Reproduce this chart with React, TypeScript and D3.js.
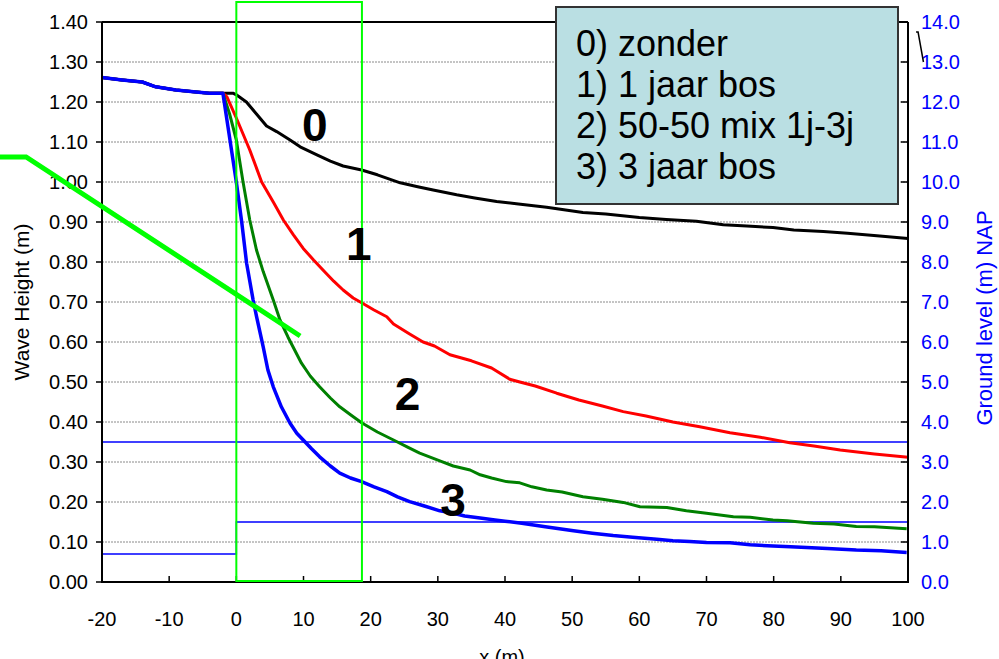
import React from "react";
import * as d3 from "d3";

type P = [number, number];

const xTicks = [-20, -10, 0, 10, 20, 30, 40, 50, 60, 70, 80, 90, 100];
const yTicks = [0, 0.1, 0.2, 0.3, 0.4, 0.5, 0.6, 0.7, 0.8, 0.9, 1.0, 1.1, 1.2, 1.3, 1.4];
const y2Ticks = [0, 1, 2, 3, 4, 5, 6, 7, 8, 9, 10, 11, 12, 13, 14];

const approach: P[] = [
  [-20, 1.261], [-17, 1.255], [-14, 1.25], [-12, 1.238], [-9, 1.23], [-6, 1.225], [-4, 1.222], [-2, 1.222],
];

const series0: P[] = [
  [-0.5, 1.222], [0, 1.218], [1.5, 1.2], [3, 1.17], [4.5, 1.14], [6, 1.126], [8, 1.105], [9.5, 1.088],
  [12, 1.068], [14, 1.052], [15.9, 1.04], [18.65, 1.03], [21, 1.018], [24.4, 0.998], [27, 0.988],
  [29.3, 0.98], [32.8, 0.968], [35.5, 0.96], [38.75, 0.951], [42, 0.945], [46.2, 0.937], [51.6, 0.924],
  [55, 0.92], [60, 0.911], [64, 0.906], [68.5, 0.902], [72.5, 0.893], [76, 0.89], [79.9, 0.886],
  [83, 0.88], [87.4, 0.876], [91, 0.872], [95.8, 0.865], [100, 0.859],
];

const series1: P[] = [
  [-1.4, 1.213], [0, 1.16], [2, 1.08], [3.77, 1.0], [5.5, 0.95], [7, 0.905], [8.5, 0.868], [9.96, 0.834],
  [11.5, 0.805], [12.9, 0.78], [14.5, 0.752], [15.9, 0.73], [17.4, 0.71], [18.65, 0.698], [20.5, 0.68],
  [22.4, 0.663], [23.4, 0.645], [25.8, 0.62], [27.8, 0.6], [29.5, 0.59], [31.8, 0.568], [35, 0.553],
  [38, 0.535], [40.7, 0.507], [42.2, 0.5], [44.5, 0.49], [47.7, 0.472], [51, 0.455], [54.5, 0.44],
  [57.6, 0.426], [61, 0.415], [65, 0.4], [69, 0.388], [73.5, 0.373], [78, 0.362], [82.4, 0.348],
  [86, 0.34], [89.9, 0.33], [95, 0.32], [100, 0.312],
];

const series2: P[] = [
  [-1, 1.17], [0, 1.105], [1, 1.0], [2, 0.905], [3, 0.83], [4, 0.776], [5.5, 0.705], [6.5, 0.655],
  [7.7, 0.612], [9.7, 0.547], [11, 0.515], [12.4, 0.488], [14, 0.46], [15.4, 0.438], [17, 0.418],
  [18.65, 0.398], [21, 0.375], [23.4, 0.355], [25.5, 0.337], [27.3, 0.322], [30.3, 0.303], [32.3, 0.29],
  [34.8, 0.28], [36.3, 0.268], [38, 0.26], [40.2, 0.251], [42.2, 0.248], [44, 0.238], [46.2, 0.23],
  [48.5, 0.225], [51.6, 0.213], [54.5, 0.207], [57.6, 0.199], [60.1, 0.188], [64.1, 0.186], [67, 0.178],
  [70, 0.172], [74, 0.163], [76.5, 0.162], [79.9, 0.155], [82, 0.153], [85.9, 0.147], [89, 0.145],
  [92.3, 0.139], [95, 0.138], [99.8, 0.133],
];

const series3: P[] = [
  [0, 1.0], [0.8, 0.9], [1.53, 0.797], [2.5, 0.705], [3.02, 0.663], [4, 0.588], [4.7, 0.53], [5.5, 0.488],
  [6.7, 0.438], [8, 0.397], [9, 0.372], [9.96, 0.355], [11.2, 0.333], [12.4, 0.313], [14, 0.29],
  [15.4, 0.272], [17, 0.26], [18.65, 0.251], [20.5, 0.238], [22.4, 0.226], [24, 0.213], [25.8, 0.201],
  [28, 0.19], [30.3, 0.178], [32.3, 0.172], [34, 0.165], [36.3, 0.16], [38.5, 0.155], [40, 0.152],
  [42.5, 0.147], [46, 0.138], [50.2, 0.128], [53, 0.122], [56.1, 0.116], [59, 0.112], [62.6, 0.107],
  [65, 0.103], [67.5, 0.101], [70, 0.099], [73.5, 0.098], [76.5, 0.093], [79.9, 0.09], [82.5, 0.088],
  [84.9, 0.086], [88, 0.084], [92.3, 0.08], [96, 0.078], [99.8, 0.074],
];

// secondary axis (ground level, m NAP)
const groundLevel: P[] = [[-20, 0.7], [0, 0.7], [0, 1.5], [100, 1.5]];
const waterLevel: P[] = [[-20, 3.5], [100, 3.5]];

// annotations
const forestZone = { x0: 0, x1: 18.7, top: 1.45 };
const limeLine: P[] = [[-35.2, 1.0625], [-31.3, 1.0625], [9.5, 0.615]];
const smallMark: P[] = [[101.2, 1.375], [101.5, 1.375], [102.3, 1.3]];

const legendLines = ["0) zonder", "1) 1 jaar bos", "2) 50-50 mix 1j-3j", "3) 3 jaar bos"];
const seriesLabels: { t: string; x: number; y: number }[] = [
  { t: "0", x: 11.7, y: 1.103 },
  { t: "1", x: 18.25, y: 0.805 },
  { t: "2", x: 25.5, y: 0.43 },
  { t: "3", x: 32.25, y: 0.165 },
];

const FONT = "Arial, 'Liberation Sans', sans-serif";

export default function App() {
  const L = 102, R = 908, T = 22, B = 582;
  const x = d3.scaleLinear().domain([-20, 100]).range([L, R]);
  const y = d3.scaleLinear().domain([0, 1.4]).range([B, T]);
  const y2 = d3.scaleLinear().domain([0, 14]).range([B, T]);
  const line = d3.line<P>().x((d) => x(d[0])).y((d) => y(d[1]));
  const line2 = d3.line<P>().x((d) => x(d[0])).y((d) => y2(d[1]));

  const curves = [
    { d: approach.concat(series0), c: "#000000", w: 3 },
    { d: approach.concat(series1), c: "#FF0000", w: 3 },
    { d: approach.concat(series2), c: "#008000", w: 3 },
    { d: approach.concat(series3), c: "#0000FF", w: 3.5 },
  ];

  return (
    <svg width={999} height={659} style={{ position: "absolute", left: 0, top: 0, background: "#fff" }} fontFamily={FONT}>
      <rect x={0} y={0} width={999} height={659} fill="#fff" />
      {/* grid */}
      {yTicks.filter((t) => t > 0 && t < 1.4).map((t) => (
        <line key={"g" + t} x1={L} x2={R} y1={y(t)} y2={y(t)} stroke="#8a8a8a" strokeWidth={1} strokeDasharray="2 1" />
      ))}
      {/* ground & water level */}
      <path d={line2(waterLevel) || ""} fill="none" stroke="#0000FF" strokeWidth={1.5} />
      <path d={line2(groundLevel) || ""} fill="none" stroke="#0000FF" strokeWidth={1.5} />
      {/* curves */}
      {curves.map((s, i) => (
        <path key={i} d={line(s.d) || ""} fill="none" stroke={s.c} strokeWidth={s.w} strokeLinejoin="round" />
      ))}
      {/* frame */}
      <line x1={L} x2={R} y1={T} y2={T} stroke="#000" strokeWidth={2} />
      <line x1={L} x2={L} y1={T} y2={B} stroke="#000" strokeWidth={2} />
      <line x1={R} x2={R} y1={T} y2={B} stroke="#000" strokeWidth={2} />
      <line x1={L - 1} x2={R + 1} y1={B} y2={B} stroke="#000" strokeWidth={2} />
      {/* left ticks */}
      {yTicks.map((t) => (
        <g key={"l" + t}>
          <line x1={L - 6} x2={L} y1={y(t)} y2={y(t)} stroke="#000" strokeWidth={1.5} />
          <text x={88} y={y(t)} dy="0.35em" textAnchor="end" fontSize={20} fill="#000">{t.toFixed(2)}</text>
        </g>
      ))}
      {/* right ticks */}
      {y2Ticks.map((t) => (
        <g key={"r" + t}>
          <line x1={R - 7} x2={R} y1={y2(t)} y2={y2(t)} stroke="#000" strokeWidth={1.5} />
          <text x={921} y={y2(t)} dy="0.35em" textAnchor="start" fontSize={20} fill="#0000FF">{t.toFixed(1)}</text>
        </g>
      ))}
      {/* bottom ticks */}
      {xTicks.map((t) => (
        <g key={"b" + t}>
          <line x1={x(t)} x2={x(t)} y1={B - 6} y2={B} stroke="#000" strokeWidth={1.5} />
          <text x={x(t)} y={626} textAnchor="middle" fontSize={20} fill="#000">{t}</text>
        </g>
      ))}
      {/* forest zone */}
      <rect x={x(forestZone.x0)} y={y(forestZone.top)} width={x(forestZone.x1) - x(forestZone.x0)} height={y(0) - 1 - y(forestZone.top)} fill="none" stroke="#00FF00" strokeWidth={2} />
      <path d={line(limeLine) || ""} fill="none" stroke="#00FF00" strokeWidth={5} />
      <path d={line(smallMark) || ""} fill="none" stroke="#000" strokeWidth={1.5} />
      {/* series labels */}
      {seriesLabels.map((s) => (
        <text key={s.t} x={x(s.x)} y={y(s.y)} textAnchor="middle" fontSize={46} fontWeight="bold" fill="#000">{s.t}</text>
      ))}
      {/* legend */}
      <rect x={556} y={7} width={342} height={197} fill="#BADFE3" stroke="#333" strokeWidth={2} />
      {legendLines.map((t, i) => (
        <text key={t} x={576} y={56 + i * 41} fontSize={36} fill="#000">{t}</text>
      ))}
      {/* axis titles */}
      <text transform={`translate(29,${(T + B) / 2}) rotate(-90)`} textAnchor="middle" fontSize={21} fill="#000">Wave Height (m)</text>
      <text transform={`translate(992,318) rotate(-90)`} textAnchor="middle" fontSize={22} fill="#0000FF">Ground level (m) NAP</text>
      <text x={502} y={664} textAnchor="middle" fontSize={20} fill="#000">x (m)</text>
    </svg>
  );
}
